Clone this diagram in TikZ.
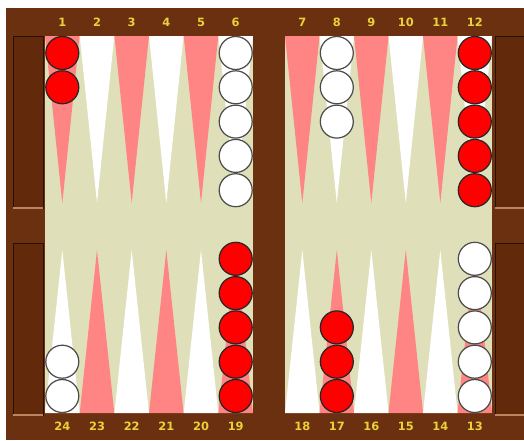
\documentclass[tikz,border=0pt]{standalone}
\usepackage{fontspec}
\newfontfamily\numfont{DejaVu Sans}
\usepackage{tikz}
\usetikzlibrary{positioning, calc}
\usepackage{xcolor}
\definecolor{boardbrown}{HTML}{6A300F}
\definecolor{traybrown}{HTML}{62290B}
\definecolor{traylight}{HTML}{B98660}
\definecolor{feltolive}{HTML}{DFDFBA}
\definecolor{pointpink}{HTML}{FF8585}
\definecolor{numyellow}{HTML}{EAD13A}
\definecolor{chkred}{HTML}{FF0000}

\begin{document}
\begin{tikzpicture}[x=0.02cm, y=-0.02cm,
    checker/.style={circle, line width=0.7pt, minimum size=0.66cm, inner sep=0pt},
    redpc/.style={checker, fill=chkred, draw=black!85},
    whitepc/.style={checker, fill=white, draw=black!70},
    numlabel/.style={font=\numfont\bfseries\fontsize{6.5}{7}\selectfont, text=numyellow, inner sep=0pt},
    tray/.style={fill=traybrown, draw=black!60!traybrown, line width=0.4pt}
  ]
  \useasboundingbox (0,0) rectangle (524,440);

  % Frame and playing fields
  \fill[boardbrown] (6,8) rectangle (524,440);
  \fill[feltolive] (45,36) rectangle (253,413);
  \fill[feltolive] (285,36) rectangle (492,413);

  % Side trays
  \foreach \tx in {13,495} {
    \filldraw[tray] (\tx,36) rectangle (\tx+30,208);
    \filldraw[tray] (\tx,243) rectangle (\tx+30,415);
    \draw[traylight, line width=1pt] (\tx,208) -- (\tx+30,208);
    \draw[traylight, line width=1pt] (\tx,415) -- (\tx+30,415);
  }

  % Points and their numbers
  \foreach \x [count=\c] in {62.3,97,131.7,166.3,201,235.7,302.3,336.8,371.3,405.8,440.3,474.8} {
    \pgfmathtruncatemacro\bt{25-\c}
    \ifodd\c \def\tc{pointpink}\def\bc{white}\else \def\tc{white}\def\bc{pointpink}\fi
    \fill[\tc] (\x-17.3,36) -- (\x+17.3,36) -- (\x,203) -- cycle;
    \fill[\bc] (\x-17.3,413) -- (\x+17.3,413) -- (\x,250) -- cycle;
    \node[numlabel] (top\c) at (\x,22) {\c};
    \node[numlabel] (bot\bt) at (\x,426) {\bt};
  }

  % Checkers
  \foreach \pt/\x/\ys/\dy/\n/\s in {1/62.3/53/34.3/2/redpc, 6/235.7/53/34.3/5/whitepc,
      8/336.8/53/34.3/3/whitepc, 12/474.8/53/34.3/5/redpc,
      24/62.3/396/-34.3/2/whitepc, 19/235.7/396/-34.3/5/redpc,
      17/336.8/396/-34.3/3/redpc, 13/474.8/396/-34.3/5/whitepc}
    \foreach \k in {1,...,\n}
      \node[\s] (p\pt c\k) at (\x,{\ys+(\k-1)*\dy}) {};
\end{tikzpicture}
\end{document}
